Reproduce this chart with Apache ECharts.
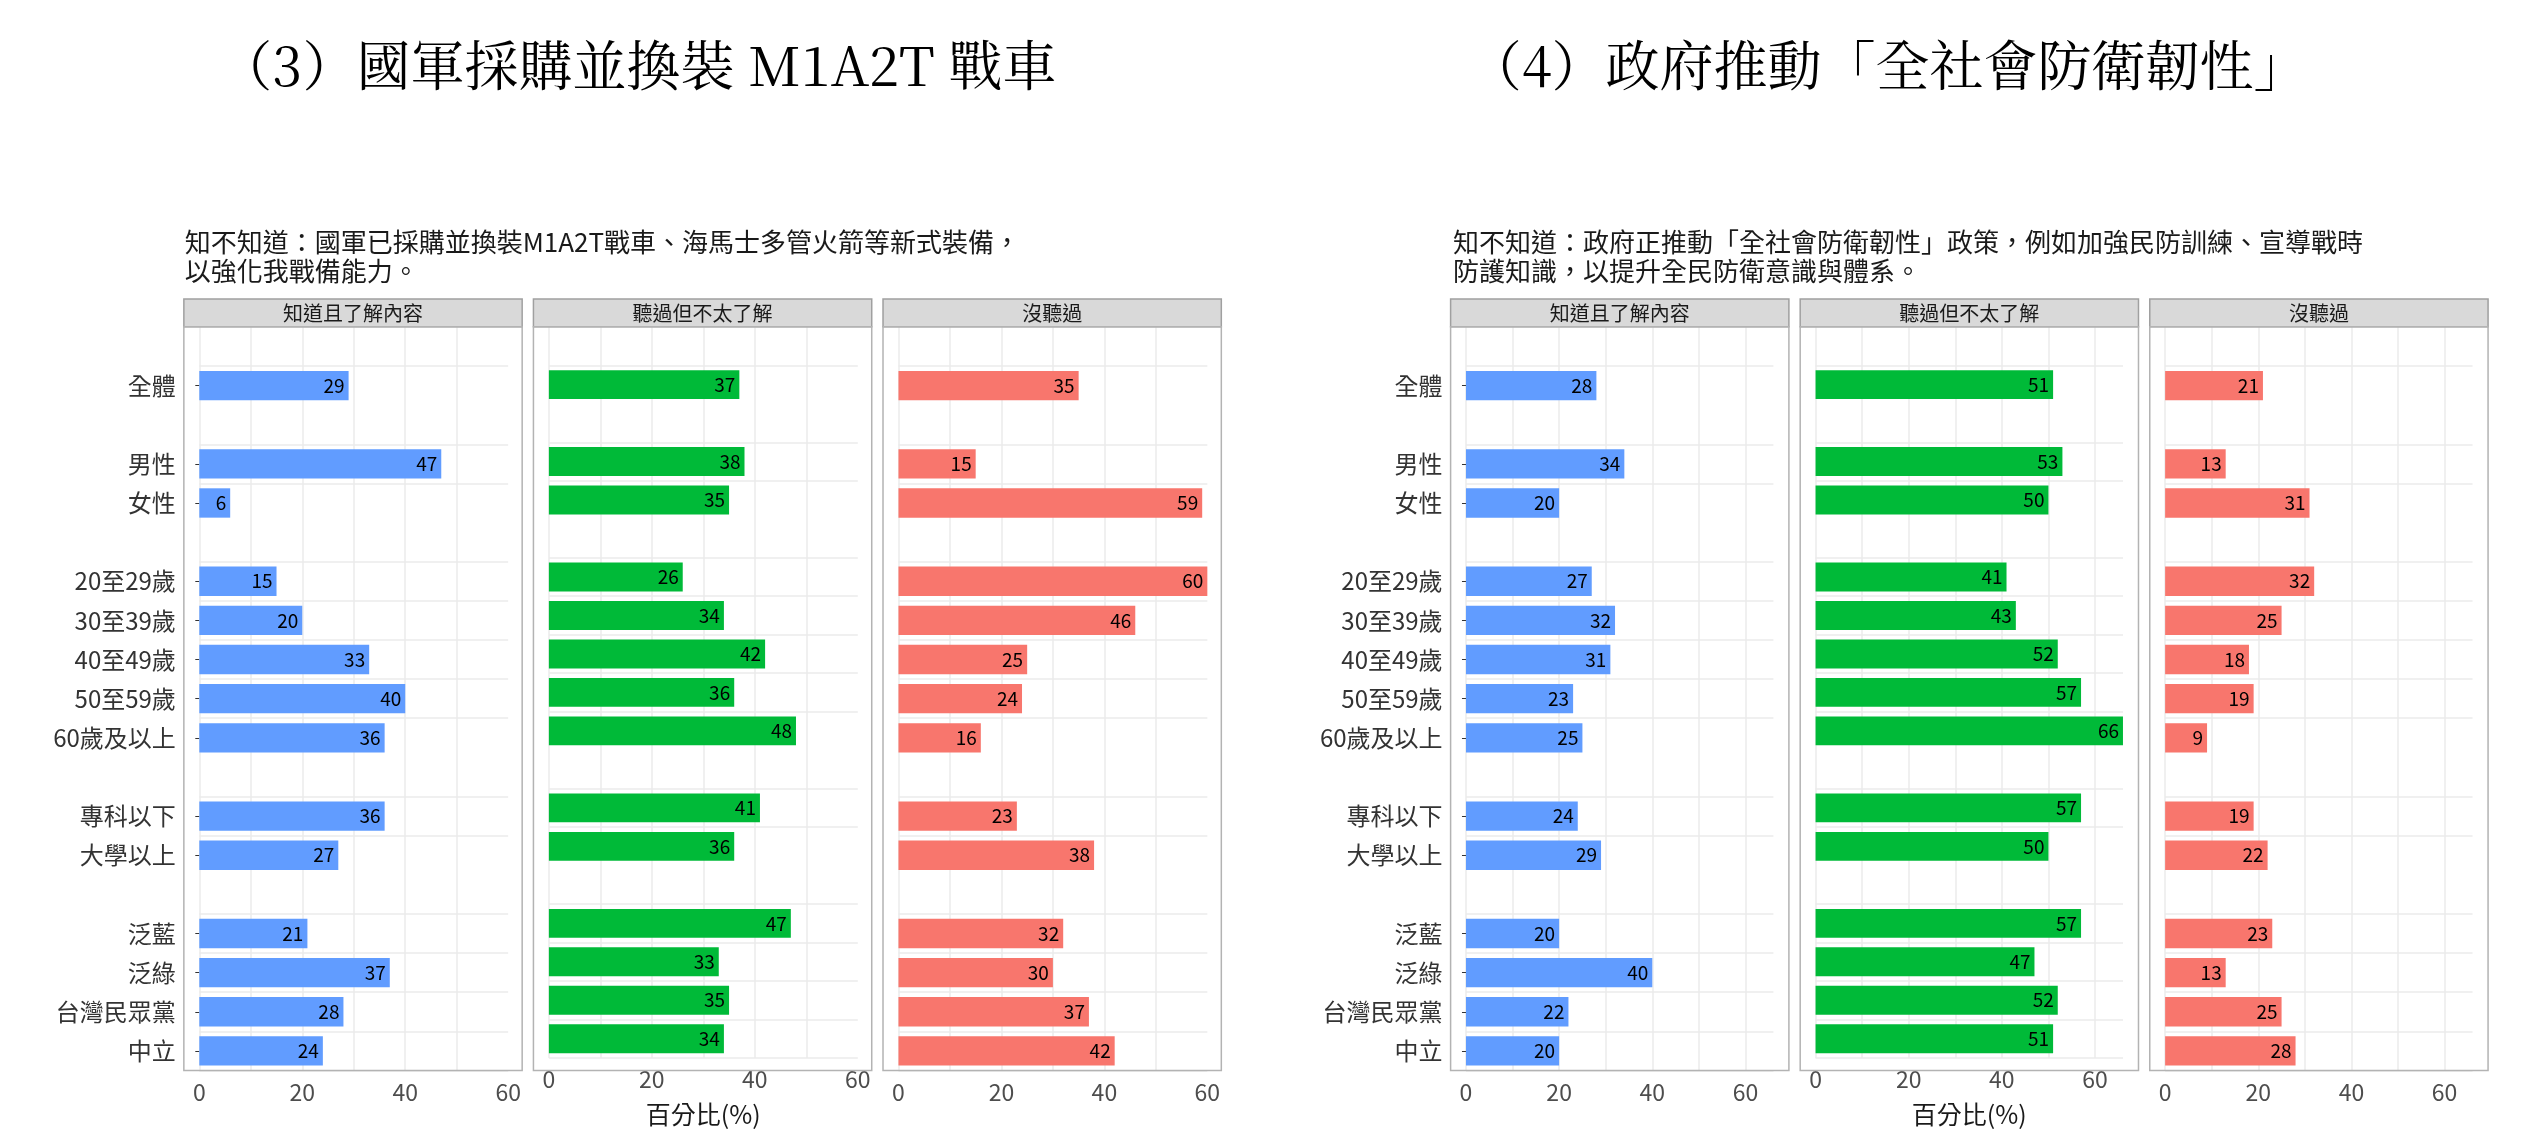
<!DOCTYPE html>
<html><head><meta charset="utf-8">
<script src="https://cdn.jsdelivr.net/npm/echarts@6/dist/echarts.min.js"></script>
<style>html,body{margin:0;padding:0;background:#fff}#c{width:2525px;height:1132px}</style>
</head><body><div id="c"></div>
<script>
const categories = ['全體','男性','女性','20至29歲','30至39歲','40至49歲','50至59歲','60歲及以上','專科以下','大學以上','泛藍','泛綠','台灣民眾黨','中立'];
const groupSizes = [1,2,5,2,4];
const facets = ['知道且了解內容','聽過但不太了解','沒聽過'];
const q3Know  = [29,47,6,15,20,33,40,36,36,27,21,37,28,24];
const q3Heard = [37,38,35,26,34,42,36,48,41,36,47,33,35,34];
const q3Never = [35,15,59,60,46,25,24,16,23,38,32,30,37,42];
const q4Know  = [28,34,20,27,32,31,23,25,24,29,20,40,22,20];
const q4Heard = [51,53,50,41,43,52,57,66,57,50,57,47,52,51];
const q4Never = [21,13,31,32,25,18,19,9,19,22,23,13,25,28];
const titles = ['（3）國軍採購並換裝 M1A2T 戰車','（4）政府推動「全社會防衛韌性」'];
const subtitles = ['知不知道：國軍已採購並換裝M1A2T戰車、海馬士多管火箭等新式裝備，\n以強化我戰備能力。','知不知道：政府正推動「全社會防衛韌性」政策，例如加強民防訓練、宣導戰時\n防護知識，以提升全民防衛意識與體系。'];
const xLabel = '百分比(%)';
const colors = ['#619CFF','#00BA38','#F8766D'];

const S = 2525/1545;
const slots = [''];
let idx = [];
let k=0;
groupSizes.forEach((g,gi)=>{ if(gi>0) slots.push(''); for(let i=0;i<g;i++){ idx.push(slots.length); slots.push(categories[k++]);} });
function toSlots(arr){ const d = slots.map(()=>null); arr.forEach((v,i)=>{ d[idx[i]]=v; }); return d; }

const charts = [
  {data:[q3Know,q3Heard,q3Never], p0:112.5, unit:3.15, max:60, titleX:390, subX:113},
  {data:[q4Know,q4Heard,q4Never], p0:887.6, unit:2.85, max:66, titleX:1155, subX:889}
];
const PW=207, GAP=6.9, TOP=200, BOT=655, STRIPTOP=183;
const grid=[],xAxis=[],yAxis=[],series=[],graphic=[];
const SANS='"Noto Sans CJK TC",sans-serif';
charts.forEach((c,ci)=>{
  graphic.push({type:'text',x:c.titleX*S,y:40*S,style:{text:titles[ci],font:'54px "Noto Serif CJK TC","Liberation Serif",serif',fill:'#000',align:'center',verticalAlign:'middle'}});
  graphic.push({type:'text',x:c.subX*S,y:139*S,style:{text:subtitles[ci],font:'26px '+SANS,fill:'#1a1a1a',lineHeight:29}});
  for(let f=0;f<3;f++){
    const gi=grid.length;
    const pl=c.p0+f*(PW+GAP);
    const xl = pl + 0.05*c.max*c.unit;
    const xr = xl + c.max*c.unit;
    graphic.push({type:'rect',shape:{x:pl*S,y:STRIPTOP*S,width:PW*S,height:(TOP-STRIPTOP)*S},style:{fill:'#d9d9d9',stroke:'#a0a0a0',lineWidth:1.5},z:10});
    graphic.push({type:'text',x:(pl+PW/2)*S,y:(STRIPTOP+TOP)/2*S,style:{text:facets[f],font:'20px '+SANS,fill:'#1a1a1a',align:'center',verticalAlign:'middle'},z:11});
    graphic.push({type:'rect',shape:{x:pl*S,y:TOP*S,width:PW*S,height:(BOT-TOP)*S},style:{fill:'none',stroke:'#b3b3b3',lineWidth:1.5},z:10});
    grid.push({left:xl*S,width:(xr-xl)*S,top:TOP*S,height:(BOT-TOP)*S});
    xAxis.push({type:'value',gridIndex:gi,min:0,max:c.max,interval:10,
      axisLine:{show:false},axisTick:{show:false},
      splitLine:{show:true,showMaxLine:false,lineStyle:{color:'#ebebeb',width:1.5}},
      axisLabel:{margin:10,fontSize:23,color:'#4d4d4d',fontFamily:SANS,showMaxLabel:c.max===60,formatter:v=>v%20===0?String(v):''},
      name:f===1?xLabel:'',nameLocation:'middle',nameGap:44,nameTextStyle:{fontSize:25,color:'#1a1a1a',fontFamily:SANS}});
    yAxis.push({type:'category',gridIndex:gi,data:slots,inverse:true,
      axisLine:{show:false},
      axisTick:{show:f===0,length:4,alignWithLabel:true,interval:(i,v)=>v!=='',lineStyle:{color:'#333'}},
      splitLine:{show:true,interval:(i,v)=>v!=='',lineStyle:{color:'#ebebeb',width:1.5}},
      axisLabel:{show:f===0,margin:(xl-pl)*S+8,fontSize:24,color:'#333',fontFamily:SANS,interval:0}});
    series.push({type:'bar',xAxisIndex:gi,yAxisIndex:gi,data:toSlots(c.data[f]),barWidth:'75%',
      itemStyle:{color:colors[f]},
      label:{show:true,position:'insideRight',distance:4,fontSize:19,color:'#000',fontFamily:SANS}});
  }
});
const chart=echarts.init(document.getElementById('c'));
chart.setOption({animation:false,grid,xAxis,yAxis,series,graphic});
</script></body></html>
